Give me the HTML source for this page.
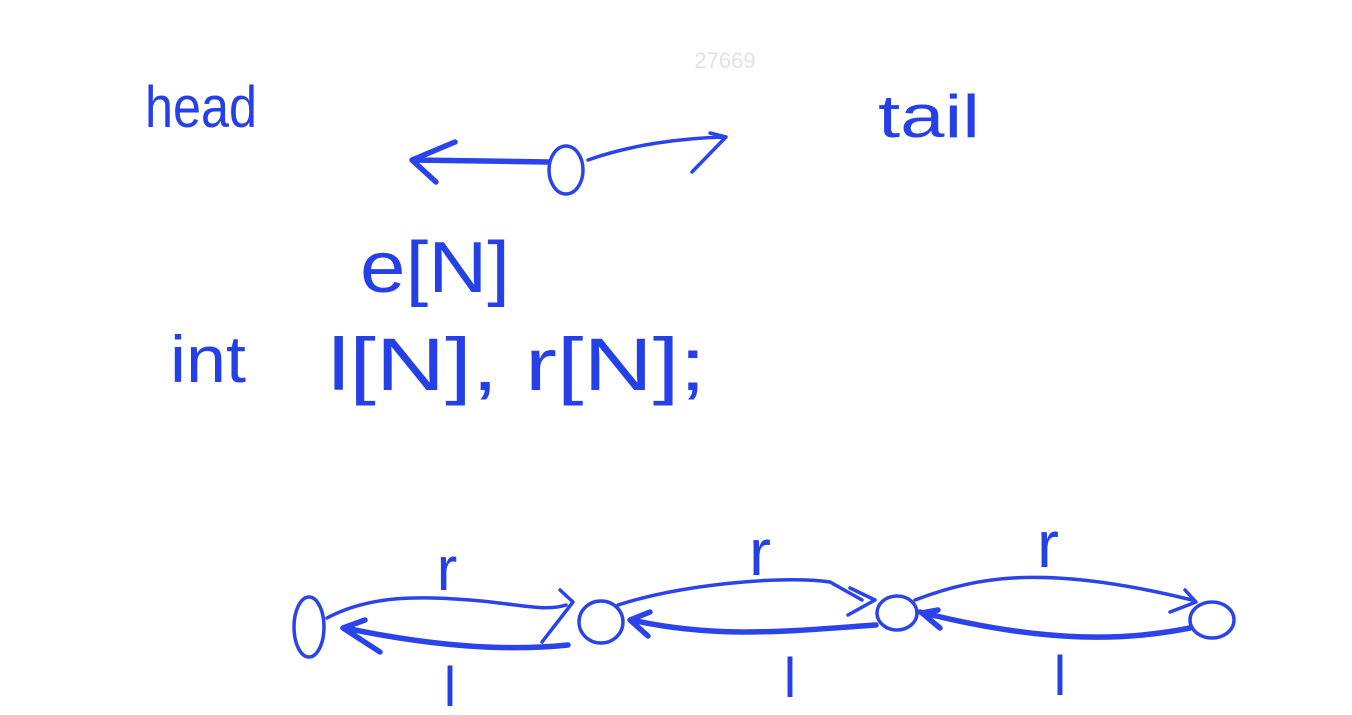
<!DOCTYPE html>
<html><head><meta charset="utf-8"><style>
html,body{margin:0;padding:0;background:#fff;width:1352px;height:715px;overflow:hidden}
svg{display:block}
.t{font-family:"Liberation Sans",sans-serif;fill:#2640e8}
.s{fill:none;stroke:#2a44ea;stroke-width:3.5;stroke-linecap:round;stroke-linejoin:round}
.k{stroke-width:5.5}
</style></head><body>
<svg width="1352" height="715" viewBox="0 0 1352 715">
<text x="725" y="68" text-anchor="middle" font-family="Liberation Sans,sans-serif" font-size="22" fill="#e2e2e2">27669</text>
<text class="t" x="145" y="127" font-size="58" textLength="112" lengthAdjust="spacingAndGlyphs">head</text>
<text class="t" x="878" y="137" font-size="60" textLength="102" lengthAdjust="spacingAndGlyphs">tail</text>
<g>
<ellipse class="s" cx="566" cy="170" rx="17" ry="24"/>
<path class="s k" d="M548,162 L412,160 M455,142 L412,160 L436,182"/>
<path class="s" d="M588,160 C630,145 680,138 726,137 M710,133 L726,137 L692,172"/>
</g>
<text class="t" x="360" y="292" font-size="72" textLength="150" lengthAdjust="spacingAndGlyphs">e[N]</text>
<text class="t" x="170" y="382" font-size="66" textLength="76" lengthAdjust="spacingAndGlyphs">int</text>
<text class="t" x="328" y="390" font-size="74" textLength="378" lengthAdjust="spacingAndGlyphs">l[N], r[N];</text>
<g>
<ellipse class="s" cx="309" cy="627" rx="15" ry="30"/>
<ellipse class="s" cx="601" cy="622" rx="22" ry="21"/>
<ellipse class="s" cx="897" cy="613" rx="20" ry="17"/>
<ellipse class="s" cx="1212" cy="620" rx="22" ry="18"/>
<path class="s" d="M327,618 C370,595 420,596 470,600 C520,604 545,612 566,605 M560,590 L573,602 L542,642"/>
<path class="s k" d="M568,645 C520,650 450,650 345,628 M365,620 L343,628 L380,652"/>
<path class="s" d="M618,605 C680,585 780,575 830,582 L862,600 M850,588 L875,600 L848,615"/>
<path class="s k" d="M876,625 C800,630 720,640 632,620 M650,612 L630,620 L648,636"/>
<path class="s" d="M915,600 C980,575 1050,565 1192,600 M1185,590 L1196,602 L1170,612"/>
<path class="s k" d="M1190,628 C1130,640 1050,645 920,612 M938,610 L922,613 L940,628"/>
</g>
<text class="t" x="447" y="590" text-anchor="middle" font-size="62">r</text>
<text class="t" x="760" y="575" text-anchor="middle" font-size="66">r</text>
<text class="t" x="1048" y="567" text-anchor="middle" font-size="66">r</text>
<text class="t" x="450" y="706" text-anchor="middle" font-size="56">l</text>
<text class="t" x="790" y="697" text-anchor="middle" font-size="56">l</text>
<text class="t" x="1060" y="695" text-anchor="middle" font-size="56">l</text>
</svg>
</body></html>
